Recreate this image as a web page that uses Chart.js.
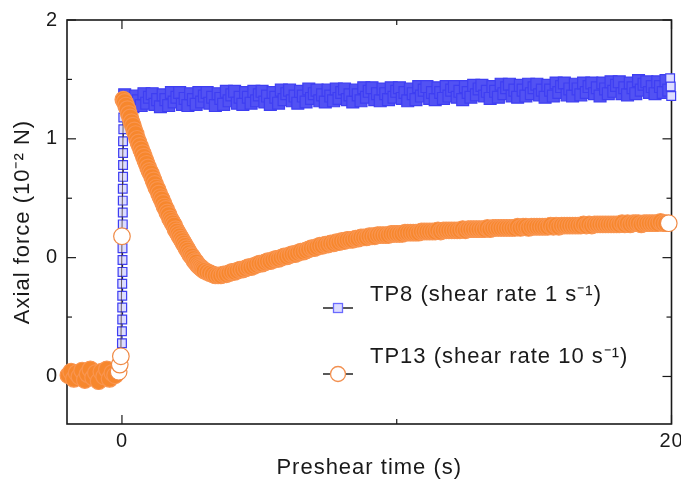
<!DOCTYPE html>
<html><head><meta charset="utf-8">
<script src="https://cdn.jsdelivr.net/npm/chart.js@4/dist/chart.umd.min.js"></script>
<style>html,body{margin:0;padding:0;background:#fff}#wrap{width:681px;height:489px}</style>
</head><body><div id="wrap"><canvas id="c" width="681" height="489"></canvas></div>
<script>
// ---------- data ----------
const seriesNames = ['TP8 (shear rate 1 s\u207B\u00B9)', 'TP13 (shear rate 10 s\u207B\u00B9)'];
const xTitle = 'Preshear time (s)';
const yTitle = 'Axial force (10\u207B\u00B2 N)';
const xTickValues = [0, 20];
const xTickLabels = ['0', '20'];
const xMinorTicks = [10];
const yTickValues = [2, 1, 0, -1];
const yTickLabels = ['2', '1', '0', '0'];
const yMinorTicks = [1.5, 0.5, -0.5];

const tp8Time = [
  0.00,0.00,0.00,0.01,0.01,0.01,0.01,0.02,0.02,0.02,0.02,0.03,0.03,0.03,0.03,0.04,0.04,0.04,0.04,0.05,0.05,0.06,
  0.1,0.2,0.3,0.4,0.5,0.6,0.7,0.8,0.9,1.0,
  1.1,1.2,1.3,1.4,1.5,1.6,1.7,1.8,1.9,2.0,
  2.1,2.2,2.3,2.4,2.5,2.6,2.7,2.8,2.9,3.0,
  3.1,3.2,3.3,3.4,3.5,3.6,3.7,3.8,3.9,4.0,
  4.1,4.2,4.3,4.4,4.5,4.6,4.7,4.8,4.9,5.0,
  5.1,5.2,5.3,5.4,5.5,5.6,5.7,5.8,5.9,6.0,
  6.1,6.2,6.3,6.4,6.5,6.6,6.7,6.8,6.9,7.0,
  7.1,7.2,7.3,7.4,7.5,7.6,7.7,7.8,7.9,8.0,
  8.1,8.2,8.3,8.4,8.5,8.6,8.7,8.8,8.9,9.0,
  9.1,9.2,9.3,9.4,9.5,9.6,9.7,9.8,9.9,10.0,
  10.1,10.2,10.3,10.4,10.5,10.6,10.7,10.8,10.9,11.0,
  11.1,11.2,11.3,11.4,11.5,11.6,11.7,11.8,11.9,12.0,
  12.1,12.2,12.3,12.4,12.5,12.6,12.7,12.8,12.9,13.0,
  13.1,13.2,13.3,13.4,13.5,13.6,13.7,13.8,13.9,14.0,
  14.1,14.2,14.3,14.4,14.5,14.6,14.7,14.8,14.9,15.0,
  15.1,15.2,15.3,15.4,15.5,15.6,15.7,15.8,15.9,16.0,
  16.1,16.2,16.3,16.4,16.5,16.6,16.7,16.8,16.9,17.0,
  17.1,17.2,17.3,17.4,17.5,17.6,17.7,17.8,17.9,18.0,
  18.1,18.2,18.3,18.4,18.5,18.6,18.7,18.8,18.9,19.0,
  19.1,19.2,19.3,19.4,19.5,19.6,19.7,19.8,19.9,
  19.95,19.97,19.99
];
const tp8Force = [
  -0.82,-0.72,-0.62,-0.52,-0.42,-0.32,-0.22,-0.12,-0.02,0.08,0.18,0.28,0.38,0.48,0.58,0.68,0.78,0.88,0.98,1.08,1.18,1.28,
  1.37,1.28,1.33,1.27,1.36,1.32,1.28,1.38,1.30,1.35,
  1.38,1.29,1.33,1.27,1.37,1.33,1.28,1.39,1.31,1.35,
  1.39,1.29,1.34,1.28,1.38,1.33,1.29,1.39,1.31,1.36,
  1.39,1.30,1.35,1.28,1.38,1.34,1.29,1.40,1.32,1.37,
  1.40,1.30,1.35,1.29,1.39,1.35,1.30,1.40,1.32,1.37,
  1.40,1.31,1.36,1.29,1.39,1.35,1.30,1.41,1.33,1.38,
  1.41,1.32,1.36,1.30,1.40,1.36,1.31,1.42,1.34,1.38,
  1.41,1.32,1.37,1.31,1.41,1.36,1.32,1.42,1.34,1.39,
  1.42,1.33,1.37,1.31,1.41,1.37,1.32,1.43,1.35,1.40,
  1.43,1.33,1.38,1.32,1.42,1.38,1.33,1.43,1.35,1.40,
  1.43,1.34,1.39,1.32,1.42,1.38,1.33,1.44,1.36,1.41,
  1.44,1.34,1.39,1.33,1.43,1.39,1.34,1.44,1.36,1.41,
  1.44,1.35,1.40,1.33,1.44,1.39,1.35,1.45,1.37,1.42,
  1.45,1.36,1.40,1.34,1.44,1.40,1.35,1.46,1.38,1.43,
  1.46,1.36,1.41,1.35,1.45,1.41,1.36,1.46,1.38,1.43,
  1.46,1.37,1.41,1.35,1.45,1.41,1.36,1.47,1.39,1.44,
  1.47,1.37,1.42,1.36,1.46,1.42,1.37,1.47,1.39,1.44,
  1.47,1.38,1.43,1.36,1.47,1.42,1.38,1.48,1.40,1.45,
  1.48,1.38,1.43,1.37,1.47,1.43,1.38,1.49,1.41,1.46,
  1.48,1.39,1.44,1.38,1.48,1.44,1.39,1.49,1.41,
  1.51,1.44,1.36
];

const tp13Time = [
  -1.95,-1.85,-1.75,-1.65,-1.55,-1.45,-1.35,-1.25,-1.15,-1.05,-0.95,-0.85,-0.75,-0.65,-0.55,-0.45,-0.35,-0.25,
  -0.12,-0.08,-0.04,0.00,
  0.05,0.10,0.15,0.20,0.25,0.30,0.35,0.40,0.45,0.50,
  0.55,0.60,0.65,0.70,0.75,0.80,0.85,0.90,0.95,1.00,
  1.05,1.10,1.15,1.20,1.25,1.30,1.35,1.40,1.45,1.50,
  1.55,1.60,1.65,1.70,1.75,1.80,1.85,1.90,1.95,2.00,
  2.05,2.10,2.15,2.20,2.25,2.30,2.35,2.40,2.45,2.50,
  2.55,2.60,2.65,2.70,2.75,2.80,2.85,2.90,2.95,3.00,
  3.1,3.2,3.3,3.4,3.5,3.6,3.7,3.8,3.9,4.0,
  4.1,4.2,4.3,4.4,4.5,4.6,4.7,4.8,4.9,5.0,
  5.1,5.2,5.3,5.4,5.5,5.6,5.7,5.8,5.9,6.0,
  6.1,6.2,6.3,6.4,6.5,6.6,6.7,6.8,6.9,7.0,
  7.1,7.2,7.3,7.4,7.5,7.6,7.7,7.8,7.9,8.0,
  8.1,8.2,8.3,8.4,8.5,8.6,8.7,8.8,8.9,9.0,
  9.1,9.2,9.3,9.4,9.5,9.6,9.7,9.8,9.9,10.0,
  10.1,10.2,10.3,10.4,10.5,10.6,10.7,10.8,10.9,11.0,
  11.1,11.2,11.3,11.4,11.5,11.6,11.7,11.8,11.9,12.0,
  12.1,12.2,12.3,12.4,12.5,12.6,12.7,12.8,12.9,13.0,
  13.1,13.2,13.3,13.4,13.5,13.6,13.7,13.8,13.9,14.0,
  14.1,14.2,14.3,14.4,14.5,14.6,14.7,14.8,14.9,15.0,
  15.1,15.2,15.3,15.4,15.5,15.6,15.7,15.8,15.9,16.0,
  16.1,16.2,16.3,16.4,16.5,16.6,16.7,16.8,16.9,17.0,
  17.1,17.2,17.3,17.4,17.5,17.6,17.7,17.8,17.9,18.0,
  18.1,18.2,18.3,18.4,18.5,18.6,18.7,18.8,18.9,19.0,
  19.1,19.2,19.3,19.4,19.5,19.6,19.7,19.8,19.9
];
const tp13Force = [
  -0.99,-0.96,-1.02,-0.97,-1.00,-0.95,-1.03,-0.98,-0.94,-1.01,-0.97,-1.04,-0.96,-1.00,-0.94,-1.02,-0.97,-0.99,
  -0.96,-0.90,-0.83,0.18,
  1.33,1.31,1.28,1.25,1.21,1.18,1.14,1.11,1.07,1.04,
  1.00,0.97,0.94,0.91,0.88,0.85,0.82,0.79,0.76,0.73,
  0.71,0.68,0.65,0.62,0.59,0.57,0.54,0.51,0.49,0.46,
  0.43,0.41,0.38,0.36,0.33,0.31,0.29,0.27,0.24,0.22,
  0.20,0.18,0.16,0.14,0.12,0.10,0.08,0.06,0.04,0.02,
  0.01,-0.01,-0.03,-0.04,-0.06,-0.07,-0.08,-0.09,-0.10,-0.11,
  -0.12,-0.13,-0.14,-0.15,-0.15,-0.15,-0.14,-0.14,-0.13,-0.12,
  -0.12,-0.11,-0.10,-0.10,-0.09,-0.08,-0.08,-0.07,-0.06,-0.05,
  -0.05,-0.04,-0.03,-0.03,-0.02,-0.01,-0.01,0.00,0.01,0.01,
  0.02,0.03,0.03,0.04,0.05,0.05,0.06,0.07,0.08,0.08,
  0.09,0.10,0.10,0.11,0.11,0.12,0.12,0.13,0.13,0.14,
  0.14,0.15,0.15,0.15,0.16,0.16,0.17,0.17,0.17,0.18,
  0.18,0.18,0.19,0.19,0.19,0.19,0.19,0.20,0.20,0.20,
  0.20,0.20,0.21,0.21,0.21,0.21,0.21,0.21,0.22,0.22,
  0.22,0.22,0.22,0.22,0.23,0.22,0.23,0.23,0.23,0.23,
  0.23,0.23,0.23,0.24,0.23,0.24,0.24,0.24,0.24,0.24,
  0.24,0.24,0.25,0.24,0.25,0.25,0.25,0.25,0.25,0.25,
  0.25,0.25,0.25,0.26,0.25,0.26,0.26,0.25,0.26,0.26,
  0.26,0.26,0.26,0.26,0.26,0.27,0.26,0.27,0.26,0.27,
  0.27,0.27,0.27,0.27,0.27,0.27,0.27,0.28,0.27,0.28,
  0.27,0.28,0.28,0.28,0.28,0.28,0.28,0.28,0.28,0.28,
  0.28,0.29,0.28,0.29,0.28,0.29,0.29,0.29,0.28,0.29,
  0.29,0.29,0.29,0.29,0.29,0.30,0.29,0.29,0.29
];

// ---------- drawing ----------
const FONT = "'Liberation Sans', Arial, Helvetica, sans-serif";
const TEXT = '#1a1a1a';
const BLUE = '#5252f3', BLUE_EDGE = '#3e3ef2', BLUE_LIGHT = '#dcdcff';
const ORANGE = '#f7872d', ORANGE_EDGE = '#f99550';
const toPts = (xs, ys) => xs.map((x, i) => ({x: x, y: ys[i]}));

const framePlugin = {
  id: 'frameTicks',
  beforeDraw(chart) { chart.ctx.letterSpacing = '1px'; },
  beforeDatasetsDraw(chart) {
    const {ctx, chartArea: a, scales: {x, y}} = chart;
    ctx.save();
    ctx.strokeStyle = '#1a1a1a';
    ctx.lineWidth = 1.6;
    ctx.strokeRect(a.left, a.top, a.right - a.left, a.bottom - a.top);
    ctx.lineWidth = 1.2;
    const mark = (x1, y1, x2, y2) => { ctx.beginPath(); ctx.moveTo(x1, y1); ctx.lineTo(x2, y2); ctx.stroke(); };
    yTickValues.concat(yMinorTicks).forEach((v, i) => {
      const p = y.getPixelForValue(v), L = i < yTickValues.length ? 9 : 5;
      mark(a.left, p, a.left + L, p); mark(a.right, p, a.right - L, p);
    });
    xTickValues.concat(xMinorTicks).forEach((v, i) => {
      const p = x.getPixelForValue(v), L = i < xTickValues.length ? 9 : 5;
      mark(p, a.bottom, p, a.bottom - L); mark(p, a.top, p, a.top + L);
    });
    ctx.restore();
  },
  afterDraw(chart) {
    const ctx = chart.ctx;
    ctx.save();
    ctx.font = '22px ' + FONT;
    ctx.fillStyle = TEXT;
    ctx.textBaseline = 'middle';
    ctx.textAlign = 'left';
    const rows = [{ty: 295, my: 308}, {ty: 357, my: 374}];
    rows.forEach((r, i) => {
      ctx.strokeStyle = '#222';
      ctx.lineWidth = 1.5;
      ctx.beginPath(); ctx.moveTo(323, r.my); ctx.lineTo(353, r.my); ctx.stroke();
      ctx.lineWidth = 1.3;
      if (i === 0) {
        ctx.fillStyle = BLUE_LIGHT; ctx.strokeStyle = '#6a6aff';
        ctx.fillRect(333.5, r.my - 4.5, 9, 9); ctx.strokeRect(333.5, r.my - 4.5, 9, 9);
      } else {
        ctx.fillStyle = '#fff'; ctx.strokeStyle = '#f29050';
        ctx.beginPath(); ctx.arc(338, r.my, 7.5, 0, Math.PI * 2); ctx.fill(); ctx.stroke();
      }
      ctx.fillStyle = TEXT;
      ctx.fillText(seriesNames[i], 370, r.ty);
    });
    ctx.restore();
  }
};

const lastOrange = tp13Time.length - 1;
const isOpenOrange = c => c.raw && ((c.raw.x > -0.2 && c.raw.x < 0.03) || c.dataIndex === lastOrange);
const isOpenBlue = c => c.raw && (c.raw.x <= 0.06 || c.raw.x >= 19.94);
new Chart(document.getElementById('c'), {
  type: 'scatter',
  data: {
    datasets: [
      {
        label: seriesNames[0], data: toPts(tp8Time, tp8Force), order: 1,
        showLine: true, borderColor: '#1c1c5c', borderWidth: 1.2,
        pointStyle: 'rect', pointBorderWidth: 1.2,
        pointRadius: c => isOpenBlue(c) ? 6.2 : 8.4,
        pointHoverRadius: c => isOpenBlue(c) ? 6.2 : 8.4,
        pointBorderColor: BLUE_EDGE,
        pointBackgroundColor: c => isOpenBlue(c) ? BLUE_LIGHT : BLUE,
        clip: false
      },
      {
        label: seriesNames[1], data: toPts(tp13Time, tp13Force), order: 0,
        showLine: true, borderColor: 'rgba(60,40,30,0.7)', borderWidth: 1,
        pointStyle: 'circle', pointRadius: 8.3, pointHoverRadius: 8.3, pointBorderWidth: 1.2,
        pointBorderColor: c => isOpenOrange(c) ? '#f08a45' : ORANGE_EDGE,
        pointBackgroundColor: c => isOpenOrange(c) ? '#ffffff' : ORANGE,
        clip: false
      }
    ]
  },
  options: {
    responsive: false, animation: false, events: [],
    layout: {padding: {top: 20, right: 8, left: 0, bottom: 0}},
    plugins: {legend: {display: false}, tooltip: {enabled: false}},
    scales: {
      x: {
        type: 'linear', min: -2, max: 20,
        afterBuildTicks: s => { s.ticks = xTickValues.map(v => ({value: v})); },
        afterFit: s => { s.height = 65; s.paddingLeft = 0; s.paddingRight = 0; },
        grid: {display: false, drawTicks: false},
        border: {display: false},
        ticks: {padding: 5, color: TEXT, font: {family: FONT, size: 20}, maxRotation: 0, autoSkip: false,
                callback: (v, i) => xTickLabels[i]},
        title: {display: true, text: xTitle, color: TEXT, font: {family: FONT, size: 22}, padding: {top: 0, bottom: 8}}
      },
      y: {
        type: 'linear', min: -1.4, max: 2,
        afterBuildTicks: s => { s.ticks = yTickValues.map(v => ({value: v})); },
        afterFit: s => { s.width = 67; s.paddingTop = 0; s.paddingBottom = 0; },
        grid: {display: false, drawTicks: false},
        border: {display: false},
        ticks: {padding: 9, color: TEXT, font: {family: FONT, size: 20}, autoSkip: false,
                callback: (v, i) => yTickLabels[i]},
        title: {display: true, text: yTitle, color: TEXT, font: {family: FONT, size: 22}, padding: {top: 10, bottom: 0}}
      }
    }
  },
  plugins: [framePlugin]
});
</script>
</body></html>
